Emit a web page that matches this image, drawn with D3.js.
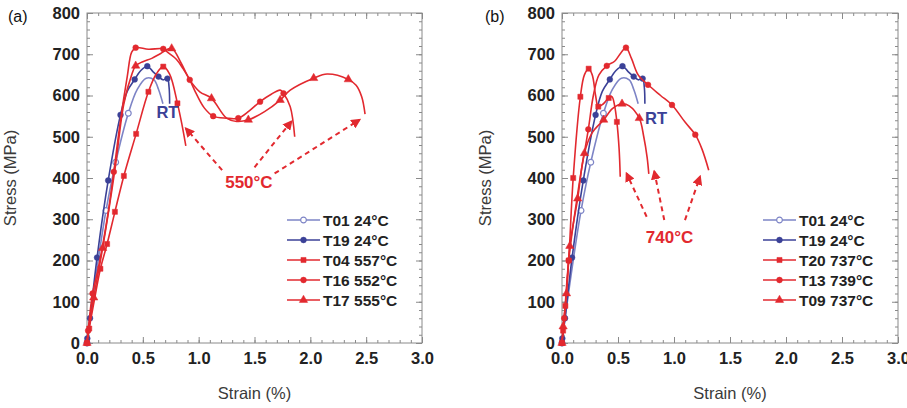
<!DOCTYPE html>
<html><head><meta charset="utf-8">
<script src="https://cdn.jsdelivr.net/npm/d3@7"></script>
<style>body{margin:0;background:#fff}svg{display:block}text{font-family:"Liberation Sans",Arial,Helvetica,sans-serif}</style>
</head><body><svg id="c" width="907" height="408"></svg>
<script>
// ---- data: [strain %, stress MPa, marker(1/0)] ----
const T01 = [[0,0,1],[0.02,45,0],[0.1,200,0],[0.17,321,1],[0.257,438,1],[0.37,557,1],[0.45,615,0],[0.53,642,0],[0.6,638,0],[0.64,615,0],[0.68,580,0]];
const T19 = [[0,0,1],[0.003,11,1],[0.027,60,1],[0.09,207,1],[0.19,394,1],[0.3,553,1],[0.36,610,0],[0.427,639,1],[0.48,660,0],[0.54,671,1],[0.59,658,0],[0.64,646,1],[0.68,638,0],[0.72,641,1],[0.735,620,0],[0.74,580,0]];
const T04 = [[0,0,1],[0.02,35,1],[0.07,110,0],[0.12,180,1],[0.18,240,1],[0.25,318,1],[0.33,405,1],[0.44,507,1],[0.55,609,1],[0.62,652,0],[0.683,670,1],[0.74,652,0],[0.81,581,1],[0.85,530,0],[0.885,478,0]];
const T16 = [[0,0,1],[0.01,30,1],[0.05,120,1],[0.1,180,0],[0.18,300,0],[0.24,415,1],[0.3,540,0],[0.36,645,0],[0.4,705,0],[0.436,716,1],[0.55,712,0],[0.683,713,1],[0.72,705,0],[0.8,688,0],[0.86,665,0],[0.92,638,1],[0.97,609,0],[1.05,570,0],[1.13,550,1],[1.25,545,0],[1.355,545,1],[1.45,562,0],[1.55,585,1],[1.65,603,0],[1.73,613,0],[1.76,605,1],[1.82,573,0],[1.86,500,0]];
const T17 = [[0,0,1],[0.02,40,0],[0.06,110,1],[0.14,230,1],[0.25,420,0],[0.33,580,0],[0.4,650,0],[0.436,672,1],[0.5,682,0],[0.58,690,0],[0.66,702,0],[0.758,714,1],[0.84,680,0],[0.92,638,0],[1.01,609,0],[1.115,593,1],[1.25,545,0],[1.34,537,0],[1.445,541,1],[1.59,561,0],[1.73,589,1],[1.82,613,0],[2.03,642,1],[2.15,652,0],[2.34,639,1],[2.41,625,0],[2.46,597,0],[2.49,555,0]];
const T20 = [[0,0,1],[0.01,30,1],[0.03,90,1],[0.06,200,1],[0.1,400,1],[0.164,597,1],[0.2,650,0],[0.238,665,1],[0.27,650,0],[0.3,600,0],[0.324,573,1],[0.37,580,0],[0.417,594,1],[0.446,597,0],[0.47,575,0],[0.49,536,1],[0.51,470,0],[0.52,403,0]];
const T13 = [[0,0,1],[0.02,60,1],[0.06,200,1],[0.15,380,0],[0.235,518,1],[0.28,600,0],[0.33,650,0],[0.4,672,1],[0.47,683,0],[0.53,705,0],[0.571,716,1],[0.62,690,0],[0.68,650,0],[0.768,626,1],[0.88,600,0],[0.982,577,1],[1.1,535,0],[1.19,505,1],[1.25,470,0],[1.31,419,0]];
const T09 = [[0,0,1],[0.01,40,1],[0.04,120,1],[0.07,235,1],[0.14,350,1],[0.2,460,1],[0.27,510,0],[0.372,541,1],[0.45,568,0],[0.536,580,1],[0.6,575,0],[0.69,545,1],[0.73,500,0],[0.76,450,0],[0.775,410,0]];

const xTicks = [0,0.5,1.0,1.5,2.0,2.5,3.0];
const yTicks = [0,100,200,300,400,500,600,700,800];
const legendA = ["T01 24°C","T19 24°C","T04 557°C","T16 552°C","T17 555°C"];
const legendB = ["T01 24°C","T19 24°C","T20 737°C","T13 739°C","T09 737°C"];
// arrows: [fromStrain, fromStress, toStrain, toStress]
const arrowsA = [[1.21,419,0.886,520],[1.50,426,1.83,537],[1.68,411,2.44,541]];
const arrowsB = [[0.756,306,0.577,411],[0.913,298,0.824,416],[1.098,298,1.232,403]];

const RED="#e2292f", BLUE="#3b4197", LBLUE="#7d84c6";
const svg = d3.select("#c");

svg.append("defs").append("marker").attr("id","ah").attr("viewBox","0 0 10 10")
  .attr("refX",8).attr("refY",5).attr("markerWidth",5).attr("markerHeight",5)
  .attr("orient","auto").attr("markerUnits","strokeWidth")
  .append("path").attr("d","M0,0L10,5L0,10Z").attr("fill",RED);

function panel(cfg){
  const g = svg.append("g");
  const x = d3.scaleLinear().domain([0,3]).range([cfg.x0,cfg.x1]);
  const y = d3.scaleLinear().domain([0,800]).range([343,13]);
  const minorX = d3.range(0,3.001,0.1), minorY = d3.range(0,800.1,20);
  const axStyle = s => { s.select(".domain").remove(); s.selectAll("line").attr("stroke","#8a8a8a"); };
  g.append("g").attr("transform",`translate(0,343)`).call(d3.axisBottom(x).tickValues(minorX).tickSize(-3).tickFormat("")).call(axStyle);
  g.append("g").attr("transform",`translate(0,13)`).call(d3.axisTop(x).tickValues(minorX).tickSize(-3).tickFormat("")).call(axStyle);
  g.append("g").attr("transform",`translate(${cfg.x0},0)`).call(d3.axisLeft(y).tickValues(minorY).tickSize(-3).tickFormat("")).call(axStyle);
  g.append("g").attr("transform",`translate(${cfg.x1},0)`).call(d3.axisRight(y).tickValues(minorY).tickSize(-3).tickFormat("")).call(axStyle);
  const bx = g.append("g").attr("transform",`translate(0,343)`).call(d3.axisBottom(x).tickValues(xTicks).tickSize(-6).tickPadding(9).tickFormat(d3.format(".1f"))).call(axStyle);
  g.append("g").attr("transform",`translate(0,13)`).call(d3.axisTop(x).tickValues(xTicks).tickSize(-6).tickFormat("")).call(axStyle);
  const ly = g.append("g").attr("transform",`translate(${cfg.x0},0)`).call(d3.axisLeft(y).tickValues(yTicks).tickSize(-6).tickPadding(7)).call(axStyle);
  g.append("g").attr("transform",`translate(${cfg.x1},0)`).call(d3.axisRight(y).tickValues(yTicks).tickSize(-6).tickFormat("")).call(axStyle);
  [bx,ly].forEach(a=>a.selectAll("text").attr("font-size",16.5).attr("font-weight","bold").attr("fill","#222").attr("font-family","Liberation Sans, Arial, sans-serif"));
  g.append("rect").attr("x",cfg.x0).attr("y",13).attr("width",cfg.x1-cfg.x0).attr("height",330).attr("fill","none").attr("stroke","#8a8a8a").attr("stroke-width",1);

  g.append("text").attr("x",cfg.lab).attr("y",22).attr("font-size",16).attr("fill","#111").text(cfg.tag);
  g.append("text").attr("transform",`translate(${cfg.x0-71},178) rotate(-90)`).attr("text-anchor","middle")
    .attr("font-size",16.5).attr("fill","#3a3a3a").text("Stress (MPa)");
  g.append("text").attr("x",(cfg.x0+cfg.x1)/2).attr("y",399).attr("text-anchor","middle")
    .attr("font-size",16.5).attr("fill","#3a3a3a").text("Strain (%)");

  const line = d3.line().x(d=>x(d[0])).y(d=>y(d[1])).curve(d3.curveCatmullRom.alpha(0.5));
  const sym = {circle:d3.symbolCircle, square:d3.symbolSquare, triangle:d3.symbolTriangle};
  cfg.series.forEach(s=>{
    g.append("path").datum(s.data).attr("d",line).attr("fill","none").attr("stroke",s.color).attr("stroke-width",1.6);
    g.selectAll(null).data(s.data.filter(d=>d[2])).join("path")
      .attr("transform",d=>`translate(${x(d[0])},${y(d[1])})`)
      .attr("d",d3.symbol().type(sym[s.shape]).size(s.shape==="triangle"?30:26))
      .attr("fill",s.open?"#fff":s.color).attr("stroke",s.color).attr("stroke-width",s.open?1.2:0.5);
  });
  cfg.arrows.forEach(a=>{
    g.append("line").attr("x1",x(a[0])).attr("y1",y(a[1])).attr("x2",x(a[2])).attr("y2",y(a[3]))
      .attr("stroke",RED).attr("stroke-width",2).attr("stroke-dasharray","5,4").attr("marker-end","url(#ah)");
  });
  g.append("text").attr("x",x(cfg.rt[0])).attr("y",y(cfg.rt[1])).attr("text-anchor","middle").attr("dy","0.36em")
    .attr("font-size",16.5).attr("font-weight","bold").attr("fill",BLUE).text("RT");
  g.append("text").attr("x",x(cfg.temp[0])).attr("y",y(cfg.temp[1])).attr("text-anchor","middle").attr("dy","0.36em")
    .attr("font-size",17).attr("font-weight","bold").attr("fill",RED).text(cfg.tempLabel);

  cfg.series.forEach((s,i)=>{
    const yy = 220 + i*20;
    g.append("line").attr("x1",cfg.lx).attr("x2",cfg.lx+33).attr("y1",yy).attr("y2",yy).attr("stroke",s.color).attr("stroke-width",1.6);
    g.append("path").attr("transform",`translate(${cfg.lx+16.5},${yy})`).attr("d",d3.symbol().type(sym[s.shape]).size(s.shape==="triangle"?30:26))
      .attr("fill",s.open?"#fff":s.color).attr("stroke",s.color).attr("stroke-width",s.open?1.2:0.5);
    g.append("text").attr("x",cfg.lx+36).attr("y",yy).attr("dy","0.36em").attr("font-size",15.5).attr("font-weight","bold").attr("fill","#222").text(cfg.legend[i]);
  });
}

panel({x0:87,x1:422,lab:8,tag:"(a)",legend:legendA,lx:287,arrows:arrowsA,rt:[0.72,560],temp:[1.45,390],tempLabel:"550°C",
  series:[{data:T01,color:LBLUE,shape:"circle",open:true},{data:T19,color:BLUE,shape:"circle"},
          {data:T04,color:RED,shape:"square"},{data:T16,color:RED,shape:"circle"},{data:T17,color:RED,shape:"triangle"}]});
panel({x0:562,x1:898,lab:485,tag:"(b)",legend:legendB,lx:763,arrows:arrowsB,rt:[0.84,545],temp:[0.96,258],tempLabel:"740°C",
  series:[{data:T01,color:LBLUE,shape:"circle",open:true},{data:T19,color:BLUE,shape:"circle"},
          {data:T20,color:RED,shape:"square"},{data:T13,color:RED,shape:"circle"},{data:T09,color:RED,shape:"triangle"}]});
</script></body></html>
